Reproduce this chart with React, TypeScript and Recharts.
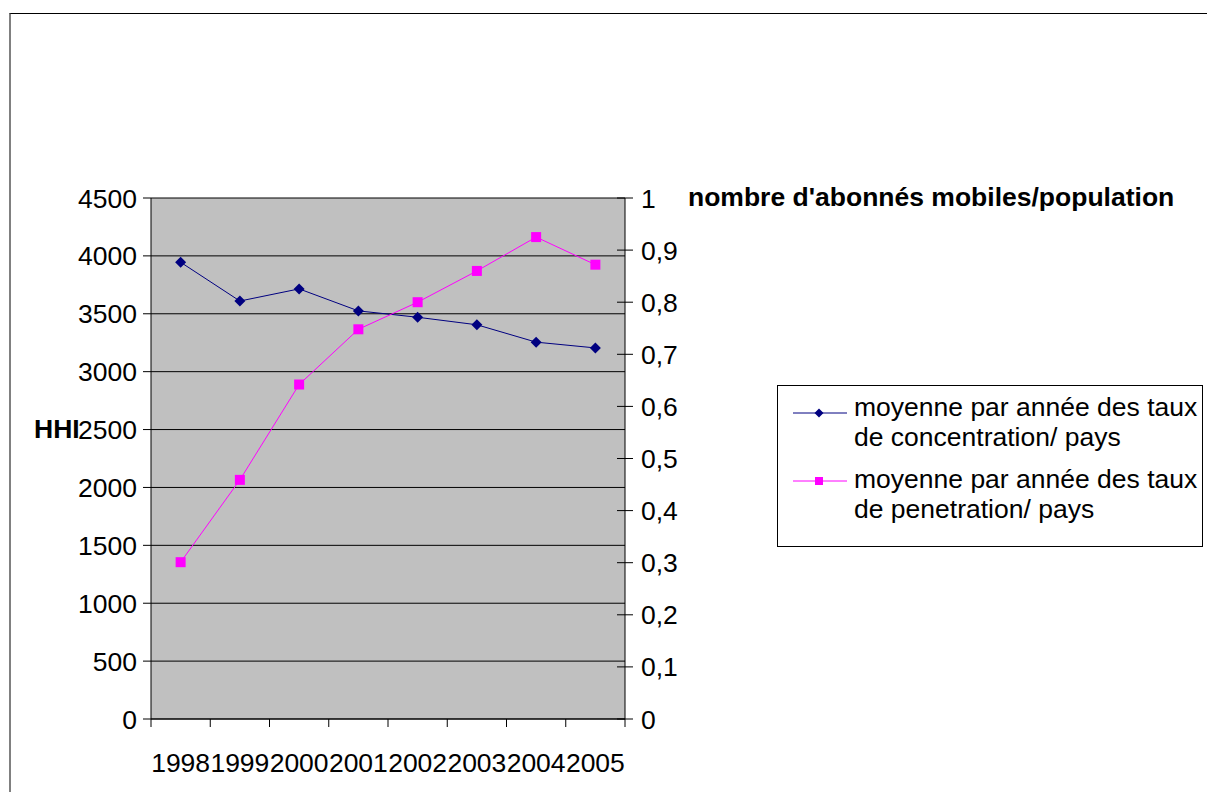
import React from "react";
import { ComposedChart, Line, XAxis, YAxis, CartesianGrid } from "recharts";

const FONT = "'Liberation Sans', Arial, Helvetica, sans-serif";
const FS = 26.5;

const years = ["1998", "1999", "2000", "2001", "2002", "2003", "2004", "2005"];
// moyenne par année des taux de concentration (HHI)
const concentration = [3945, 3610, 3715, 3525, 3470, 3405, 3255, 3205];
// moyenne par année des taux de penetration
const penetration = [0.301, 0.459, 0.642, 0.748, 0.8, 0.86, 0.925, 0.872];

const hhiTicks = [0, 500, 1000, 1500, 2000, 2500, 3000, 3500, 4000, 4500];
const rateTicks = [0, 0.1, 0.2, 0.3, 0.4, 0.5, 0.6, 0.7, 0.8, 0.9, 1];

const data = years.map((year, i) => ({
  year,
  pos: i + 0.5,
  hhi: concentration[i],
  rate: penetration[i],
}));

// integer ticks = category boundaries (tick marks), half ticks = year labels
const xTicks = years.flatMap((_, i) => [i, i + 0.5]).concat(years.length);

const formatRate = (v: number) => String(v).replace(".", ",");

function Diamond({ cx, cy, r = 5.5 }: any) {
  if (cx == null || cy == null) return null;
  return (
    <path
      d={`M${cx},${cy - r}L${cx + r},${cy}L${cx},${cy + r}L${cx - r},${cy}Z`}
      fill="#000080"
    />
  );
}

function Square({ cx, cy, r = 5 }: any) {
  if (cx == null || cy == null) return null;
  return <rect x={cx - r} y={cy - r} width={r * 2} height={r * 2} fill="#FF00FF" />;
}

function XTick({ x, y, payload }: any) {
  const v = payload.value;
  if (Number.isInteger(v)) {
    return <line x1={x} x2={x} y1={y} y2={y + 8} stroke="#000" />;
  }
  return (
    <text
      x={x}
      y={y + 43}
      dy="0.36em"
      textAnchor="middle"
      fontSize={FS}
      fontFamily={FONT}
      fill="#000"
    >
      {years[Math.floor(v)]}
    </text>
  );
}

function LeftTick({ x, y, payload }: any) {
  return (
    <text x={x} y={y} dy="0.36em" textAnchor="end" fontSize={FS} fontFamily={FONT} fill="#000">
      {payload.value}
    </text>
  );
}

function RightTick({ x, y, payload }: any) {
  // tick mark crosses the axis line
  return (
    <g>
      <line x1={x - 24} x2={x - 8} y1={y} y2={y} stroke="#000" />
      <text x={x} y={y} dy="0.36em" textAnchor="start" fontSize={FS} fontFamily={FONT} fill="#000">
        {formatRate(payload.value)}
      </text>
    </g>
  );
}

export default function App() {
  return (
    <div
      style={{
        position: "fixed",
        left: 0,
        top: 0,
        width: 1207,
        height: 792,
        overflow: "hidden",
        fontFamily: FONT,
        color: "#000",
        background: "#fff",
      }}
    >
      <div style={{ position: "absolute", left: 8, top: 8, width: 1199, height: 776 }}>
        <div
          style={{
            position: "absolute",
            left: 1,
            top: 5,
            width: 1400,
            height: 1000,
            borderTop: "1px solid #000",
            borderLeft: "2px solid #808080",
          }}
        />
        <div style={{ position: "absolute", left: 0, top: 0 }}>
          <ComposedChart
            width={1199}
            height={776}
            data={data}
            margin={{ top: 190, right: 522, bottom: 0, left: 0 }}
          >
            <CartesianGrid
              yAxisId="hhi"
              vertical={false}
              stroke="#000"
              fill="#C0C0C0"
              fillOpacity={1}
            />
            <XAxis
              dataKey="pos"
              type="number"
              domain={[0, years.length]}
              ticks={xTicks}
              interval={0}
              tickSize={0}
              tickMargin={0}
              tickLine={false}
              axisLine={{ stroke: "#000" }}
              tick={<XTick />}
              height={65}
            />
            <YAxis
              yAxisId="hhi"
              domain={[0, 4500]}
              ticks={hhiTicks}
              interval={0}
              width={143}
              tickSize={8}
              tickMargin={6}
              tickLine={{ stroke: "#000" }}
              axisLine={{ stroke: "#000" }}
              tick={<LeftTick />}
            />
            <YAxis
              yAxisId="rate"
              orientation="right"
              domain={[0, 1]}
              ticks={rateTicks}
              interval={0}
              width={60}
              tickSize={8}
              tickMargin={8}
              tickLine={false}
              axisLine={{ stroke: "#000" }}
              tick={<RightTick />}
            />
            <Line
              yAxisId="hhi"
              dataKey="hhi"
              stroke="#000080"
              strokeWidth={1}
              dot={(p: any) => <Diamond key={`d${p.index}`} cx={p.cx} cy={p.cy} />}
              activeDot={false}
              isAnimationActive={false}
            />
            <Line
              yAxisId="rate"
              dataKey="rate"
              stroke="#FF00FF"
              strokeWidth={1}
              dot={(p: any) => <Square key={`s${p.index}`} cx={p.cx} cy={p.cy} />}
              activeDot={false}
              isAnimationActive={false}
            />
          </ComposedChart>
        </div>

        <div
          style={{
            position: "absolute",
            left: 26,
            top: 408,
            fontSize: FS,
            lineHeight: "26px",
            fontWeight: "bold",
            whiteSpace: "nowrap",
          }}
        >
          HHI
        </div>
        <div
          style={{
            position: "absolute",
            left: 680,
            top: 176,
            fontSize: FS,
            lineHeight: "26px",
            fontWeight: "bold",
            whiteSpace: "nowrap",
          }}
        >
          nombre d'abonnés mobiles/population
        </div>

        <div
          style={{
            position: "absolute",
            left: 769,
            top: 377,
            width: 426,
            height: 162,
            boxSizing: "border-box",
            border: "1px solid #000",
            background: "#fff",
          }}
        >
          <svg width={80} height={140} style={{ position: "absolute", left: 0, top: 0 }}>
            <line x1={15} x2={69} y1={27} y2={27} stroke="#000080" />
            <Diamond cx={41} cy={27} r={4.5} />
            <line x1={15} x2={69} y1={95} y2={95} stroke="#FF00FF" />
            <Square cx={41} cy={95} r={4} />
          </svg>
          <div
            style={{
              position: "absolute",
              left: 76,
              top: 6,
              fontSize: FS,
              lineHeight: "30px",
              whiteSpace: "nowrap",
            }}
          >
            moyenne par année des taux
            <br />
            de concentration/ pays
          </div>
          <div
            style={{
              position: "absolute",
              left: 76,
              top: 78,
              fontSize: FS,
              lineHeight: "30px",
              whiteSpace: "nowrap",
            }}
          >
            moyenne par année des taux
            <br />
            de penetration/ pays
          </div>
        </div>
      </div>
    </div>
  );
}
